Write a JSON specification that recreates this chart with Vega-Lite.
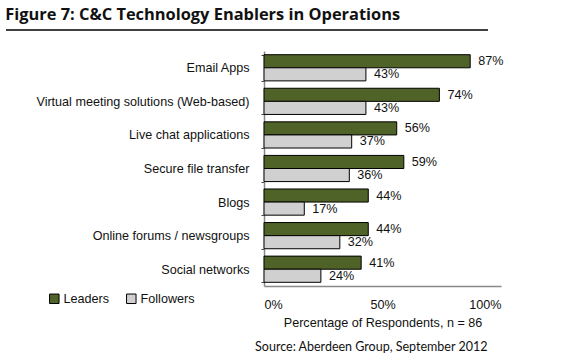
{
  "$schema": "https://vega.github.io/schema/vega-lite/v6.json",
  "padding": {"left": 5, "top": 6, "right": 5, "bottom": 5},
  "background": "white",
  "title": {"text": "Figure 7: C&C Technology Enablers in Operations", "anchor": "start", "font": "Open Sans", "fontSize": 16.4, "fontWeight": "bold", "color": "#111111", "offset": 6},
  "config": {
    "view": {"stroke": null},
    "axis": {"labelFont": "Liberation Sans", "labelFontSize": 12.6, "labelColor": "#111111", "titleFont": "Liberation Sans", "titleFontSize": 12.6, "titleFontWeight": "normal", "titleColor": "#111111"},
    "legend": {"labelFont": "Liberation Sans", "labelFontSize": 12.6, "labelColor": "#111111"}
  },
  "spacing": 14,
  "vconcat": [
    {
      "data": {"values": [{"start": -1.0886, "end": 0.945}]},
      "width": 237,
      "height": 1,
      "mark": {"type": "rule", "color": "#000000", "strokeWidth": 1.5, "clip": false},
      "encoding": {
        "x": {"field": "start", "type": "quantitative", "scale": {"domain": [0, 1]}, "axis": null},
        "x2": {"field": "end"},
        "y": {"datum": 0, "type": "quantitative", "scale": {"domain": [0, 1]}, "axis": null}
      }
    },
    {
      "data": {"values": [
        {"category": "Email Apps", "series": "Leaders", "value": 0.87},
        {"category": "Email Apps", "series": "Followers", "value": 0.43},
        {"category": "Virtual meeting solutions (Web-based)", "series": "Leaders", "value": 0.74},
        {"category": "Virtual meeting solutions (Web-based)", "series": "Followers", "value": 0.43},
        {"category": "Live chat applications", "series": "Leaders", "value": 0.56},
        {"category": "Live chat applications", "series": "Followers", "value": 0.37},
        {"category": "Secure file transfer", "series": "Leaders", "value": 0.59},
        {"category": "Secure file transfer", "series": "Followers", "value": 0.36},
        {"category": "Blogs", "series": "Leaders", "value": 0.44},
        {"category": "Blogs", "series": "Followers", "value": 0.17},
        {"category": "Online forums / newsgroups", "series": "Leaders", "value": 0.44},
        {"category": "Online forums / newsgroups", "series": "Followers", "value": 0.32},
        {"category": "Social networks", "series": "Leaders", "value": 0.41},
        {"category": "Social networks", "series": "Followers", "value": 0.24}
      ]},
      "width": 237,
      "height": 235,
      "title": {"text": "Source: Aberdeen Group, September 2012", "orient": "bottom", "anchor": "end", "font": "Lato", "fontSize": 12.5, "fontWeight": "normal", "color": "#111111", "dx": -16, "offset": 12},
      "encoding": {
        "y": {"field": "category", "type": "nominal", "sort": null, "scale": {"paddingInner": 0.22, "paddingOuter": 0.11},
          "axis": {"title": null, "labelPadding": 12, "ticks": true, "tickBand": "extent", "tickSize": 3, "tickColor": "#444444", "domainColor": "#888888", "domainWidth": 1.5, "labelLimit": 400}},
        "yOffset": {"field": "series", "type": "nominal", "sort": ["Leaders", "Followers"], "scale": {"paddingInner": 0, "paddingOuter": 0}},
        "x": {"field": "value", "type": "quantitative", "scale": {"domain": [0, 1]},
          "axis": {"title": "Percentage of Respondents, n = 86", "format": ".0%", "values": [0, 0.5, 1], "ticks": false, "grid": false, "domainColor": "#888888", "domainWidth": 1.5, "labelPadding": 12, "titlePadding": 6}}
      },
      "layer": [
        {
          "mark": {"type": "bar", "stroke": "#000000", "strokeWidth": 1},
          "encoding": {
            "color": {"field": "series", "type": "nominal", "scale": {"domain": ["Leaders", "Followers"], "range": ["#4f6228", "#d0d0d0"]},
              "legend": {"title": null, "orient": "none", "direction": "horizontal", "legendX": -216, "legendY": 263, "symbolType": "square", "symbolSize": 90, "symbolStrokeColor": "#000000", "symbolStrokeWidth": 1, "labelOffset": 3, "columnPadding": 14}}
          }
        },
        {
          "mark": {"type": "text", "align": "left", "baseline": "middle", "dx": 8, "font": "Liberation Sans", "fontSize": 12.6, "color": "#111111"},
          "encoding": {"text": {"field": "value", "type": "quantitative", "format": ".0%"}}
        }
      ]
    }
  ]
}
